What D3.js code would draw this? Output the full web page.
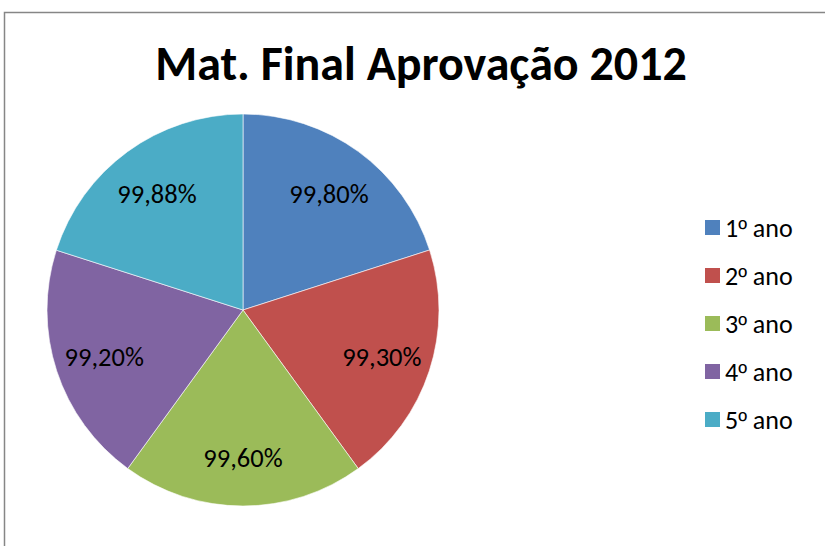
<!DOCTYPE html>
<html>
<head>
<meta charset="utf-8">
<script src="https://cdn.jsdelivr.net/npm/d3@7"></script>
<style>
  html, body { margin: 0; padding: 0; background: #fff; }
  svg { display: block; }
</style>
</head>
<body>
<svg id="chart" width="825" height="546"></svg>
<script>
// Approval rate per school year (Mat. Final, 2012)
const categories = ["1º ano", "2º ano", "3º ano", "4º ano", "5º ano"];
const values = [99.80, 99.30, 99.60, 99.20, 99.88];
const colors = ["#4F81BD", "#C0504D", "#9BBB59", "#8064A2", "#4BACC6"];

const svg = d3.select("#chart");
const font = "Carlito, Calibri, Lato, 'Open Sans', sans-serif";

// outer frame
svg.append("rect")
  .attr("x", 4.5).attr("y", 12.5)
  .attr("width", 900).attr("height", 600)
  .attr("fill", "#fff")
  .attr("stroke", "#868686").attr("stroke-width", 1.5);

// title
svg.append("text")
  .attr("x", 421).attr("y", 80)
  .attr("text-anchor", "middle")
  .attr("font-family", font)
  .attr("font-weight", "bold")
  .attr("font-size", 48)
  .attr("fill", "#000")
  .text("Mat. Final Aprovação 2012");

const cx = 243, cy = 310, r = 196;
const data = categories.map((c, i) => ({ name: c, value: values[i], color: colors[i] }));

const pie = d3.pie().sort(null).value(d => d.value);
const arc = d3.arc().innerRadius(0).outerRadius(r);
const labelArc = d3.arc().innerRadius(r * 0.745).outerRadius(r * 0.745);
const fmt = v => v.toFixed(2).replace(".", ",") + "%";

const g = svg.append("g").attr("transform", `translate(${cx},${cy})`);
const arcs = pie(data);

g.selectAll("path.slice")
  .data(arcs)
  .join("path")
  .attr("class", "slice")
  .attr("d", arc)
  .attr("fill", d => d.data.color)
  .attr("stroke", "#fff")
  .attr("stroke-width", 0.6);

g.selectAll("text.val")
  .data(arcs)
  .join("text")
  .attr("class", "val")
  .attr("transform", d => {
    const [x, y] = labelArc.centroid(d);
    return `translate(${x},${y + 2})`;
  })
  .attr("text-anchor", "middle")
  .attr("dominant-baseline", "central")
  .attr("font-family", font)
  .attr("font-size", 26.5)
  .attr("fill", "#000")
  .text(d => fmt(d.data.value));

// legend
const legend = svg.append("g").attr("transform", "translate(705,220)");
const rows = legend.selectAll("g.row")
  .data(data)
  .join("g")
  .attr("class", "row")
  .attr("transform", (d, i) => `translate(0,${i * 48})`);

rows.append("rect")
  .attr("width", 15).attr("height", 15)
  .attr("fill", d => d.color);

// the ordinal sign is drawn in a face whose "º" carries the underline bar
const labelText = rows.append("text")
  .attr("x", 20).attr("y", 7.5)
  .attr("dominant-baseline", "central")
  .attr("font-family", font)
  .attr("font-size", 26)
  .attr("fill", "#000");

labelText.each(function (d) {
  const parts = d.name.split("º");
  const t = d3.select(this);
  t.append("tspan").text(parts[0]);
  t.append("tspan")
    .attr("font-family", "'Liberation Sans', Arial, sans-serif")
    .attr("font-size", 24)
    .text("º");
  t.append("tspan").text(parts[1]);
});
</script>
</body>
</html>
